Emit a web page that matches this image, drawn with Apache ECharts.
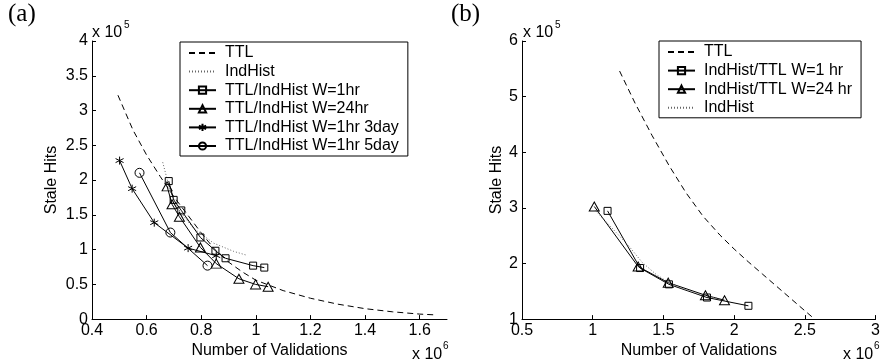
<!DOCTYPE html>
<html>
<head>
<meta charset="utf-8">
<script src="https://cdn.jsdelivr.net/npm/echarts@6/dist/echarts.min.js"></script>
<style>
html, body { margin: 0; padding: 0; background: #fff; }
#chart { width: 883px; height: 364px; }
</style>
</head>
<body>
<div id="chart"></div>
<script>
// values in axis units: x in 1e6 validations, y in 1e5 stale hits

// panel (a)
const ttlAX = [0.495, 0.55, 0.6, 0.65, 0.7, 0.75, 0.8, 0.85, 0.9, 0.95, 1.0, 1.1, 1.2, 1.3, 1.4, 1.5, 1.6, 1.65];
const ttlAY = [3.22, 2.72, 2.36, 2.05, 1.76, 1.5, 1.24, 1.0, 0.82, 0.68, 0.56, 0.41, 0.3, 0.215, 0.15, 0.105, 0.072, 0.062];
const indHistAX = [0.659, 0.687, 0.723, 0.772, 0.845, 0.919, 0.968];
const indHistAY = [2.256, 1.83, 1.544, 1.306, 1.093, 0.974, 0.917];
const w1hrX = [0.681, 0.699, 0.727, 0.797, 0.852, 0.889, 0.99, 1.031];
const w1hrY = [1.985, 1.715, 1.563, 1.174, 0.983, 0.875, 0.769, 0.741];
const w24hrX = [0.675, 0.693, 0.72, 0.797, 0.855, 0.938, 0.999, 1.045];
const w24hrY = [1.909, 1.652, 1.473, 1.031, 0.798, 0.58, 0.499, 0.466];
const w3dayX = [0.501, 0.547, 0.628, 0.752, 0.855];
const w3dayY = [2.28, 1.876, 1.387, 1.021, 0.912];
const w5dayX = [0.574, 0.687, 0.823];
const w5dayY = [2.104, 1.245, 0.769];
const xTicksA = [0.4, 0.6, 0.8, 1.0, 1.2, 1.4, 1.6];

// panel (b)
const ttlBX = [1.19, 1.3, 1.42, 1.54, 1.66, 1.78, 1.9, 2.0, 2.1, 2.2, 2.3, 2.4, 2.5, 2.56];
const ttlBY = [5.46, 4.88, 4.3, 3.76, 3.27, 2.85, 2.51, 2.26, 2.03, 1.81, 1.59, 1.37, 1.15, 1.02];
const itW1X = [1.105, 1.335, 1.539, 1.808, 2.101];
const itW1Y = [2.946, 1.918, 1.625, 1.388, 1.239];
const itW24X = [1.011, 1.321, 1.534, 1.797, 1.932];
const itW24Y = [3.025, 1.946, 1.655, 1.429, 1.34];
const indHistBX = [1.02, 1.15, 1.25, 1.35, 1.45, 1.55, 1.65, 1.75, 1.85, 1.9];
const indHistBY = [2.95, 2.6, 2.33, 2.02, 1.8, 1.64, 1.53, 1.45, 1.39, 1.36];

const pairs = (xs, ys) => xs.map((x, i) => [x, ys[i]]);

const font = '"Liberation Sans", Arial, sans-serif';
const starPath = 'path://M5,0L5,10M0.67,2.5L9.33,7.5M0.67,7.5L9.33,2.5';
const clear = 'rgba(0,0,0,0)';

// dashed / dotted curves: symbol none, and a see-through legend dot
function dashed(name, idx, data) {
    return {
        type: 'line', name: name, xAxisIndex: idx, yAxisIndex: idx, data: data,
        symbol: 'none', itemStyle: { color: clear, borderWidth: 0 },
        lineStyle: { color: '#000', width: 1, type: [6, 4] }
    };
}
function dotted(name, idx, data) {
    return {
        type: 'line', name: name, xAxisIndex: idx, yAxisIndex: idx, data: data,
        symbol: 'none', itemStyle: { color: clear, borderWidth: 0 },
        lineStyle: { color: '#666', width: 1, type: [1, 2] }
    };
}
function marked(name, idx, data, symbol, size) {
    return {
        type: 'line', name: name, xAxisIndex: idx, yAxisIndex: idx, data: data,
        symbol: symbol, symbolSize: size, showAllSymbol: true,
        itemStyle: { color: clear, borderColor: '#000', borderWidth: 1 },
        lineStyle: { color: '#000', width: 1 }
    };
}

function xAxis(idx, min, max, interval, ticks) {
    const ax = {
        type: 'value', gridIndex: idx, min: min, max: max, interval: interval,
        name: 'Number of Validations', nameLocation: 'middle', nameGap: 20,
        nameTextStyle: { fontFamily: font, fontSize: 16, color: '#000' },
        axisLine: { lineStyle: { color: '#000', width: 1 } },
        axisTick: { inside: true, length: 4, lineStyle: { color: '#000' } },
        axisLabel: { fontFamily: font, fontSize: 16, color: '#000', margin: 3 },
        splitLine: { show: false }
    };
    if (ticks) {
        ax.axisLabel.customValues = ticks;
        ax.axisTick.customValues = ticks;
    }
    return ax;
}
function yAxis(idx, min, max, interval, gap) {
    return {
        type: 'value', gridIndex: idx, min: min, max: max, interval: interval,
        name: 'Stale Hits', nameLocation: 'middle', nameGap: gap, nameRotate: 90,
        nameTextStyle: { fontFamily: font, fontSize: 16, color: '#000' },
        axisLine: { show: true, lineStyle: { color: '#000', width: 1 } },
        axisTick: { inside: true, length: 4, lineStyle: { color: '#000' } },
        axisLabel: { fontFamily: font, fontSize: 16, color: '#000', margin: 4 },
        splitLine: { show: false }
    };
}
function legend(left, top, names) {
    return {
        orient: 'vertical', left: left, top: top, data: names,
        itemWidth: 27, itemHeight: 9, itemGap: 2.6,
        padding: [3, 9, 2, 8],
        borderColor: '#000', borderWidth: 1, backgroundColor: '#fff',
        selectedMode: false,
        textStyle: { fontFamily: font, fontSize: 16, color: '#000', lineHeight: 16, padding: [0, 0, 0, 4] }
    };
}
function label(x, y, text, size) {
    return { type: 'text', x: x, y: y, style: { text: text, fontFamily: font, fontSize: size, fill: '#000' } };
}

const option = {
    animation: false,
    backgroundColor: '#fff',
    grid: [
        { left: 92, top: 41, width: 355, height: 281 },
        { left: 522, top: 41, width: 355, height: 280 }
    ],
    xAxis: [xAxis(0, 0.4, 1.7, 0.2, xTicksA), xAxis(1, 0.5, 3, 0.5)],
    yAxis: [yAxis(0, 0, 4, 0.5, 32), yAxis(1, 1, 6, 1, 17)],
    legend: [
        legend(180, 42, ['TTL', 'IndHist', 'TTL/IndHist W=1hr', 'TTL/IndHist W=24hr', 'TTL/IndHist W=1hr 3day', 'TTL/IndHist W=1hr 5day']),
        legend(659, 41, ['TTL', 'IndHist/TTL W=1 hr', 'IndHist/TTL W=24 hr', 'IndHist'])
    ],
    graphic: [
        { type: 'text', x: 8, y: 2, style: { text: '(a)', fontFamily: '"Liberation Serif", serif', fontSize: 25, fill: '#000' } },
        { type: 'text', x: 451, y: 2, style: { text: '(b)', fontFamily: '"Liberation Serif", serif', fontSize: 25, fill: '#000' } },
        label(92, 25, 'x 10', 16), label(124, 20, '5', 10),
        label(523, 25, 'x 10', 16), label(555, 20, '5', 10),
        label(412, 347, 'x 10', 16), label(443, 341, '6', 10),
        label(843, 347, 'x 10', 16), label(874, 341, '6', 10)
    ],
    series: [
        dashed('TTL', 0, pairs(ttlAX, ttlAY)),
        dotted('IndHist', 0, pairs(indHistAX, indHistAY)),
        marked('TTL/IndHist W=1hr', 0, pairs(w1hrX, w1hrY), 'rect', 7),
        marked('TTL/IndHist W=24hr', 0, pairs(w24hrX, w24hrY), 'triangle', [10, 9]),
        marked('TTL/IndHist W=1hr 3day', 0, pairs(w3dayX, w3dayY), starPath, 8),
        marked('TTL/IndHist W=1hr 5day', 0, pairs(w5dayX, w5dayY), 'circle', 9),
        dashed('TTL', 1, pairs(ttlBX, ttlBY)),
        marked('IndHist/TTL W=1 hr', 1, pairs(itW1X, itW1Y), 'rect', 7),
        marked('IndHist/TTL W=24 hr', 1, pairs(itW24X, itW24Y), 'triangle', [10, 9]),
        dotted('IndHist', 1, pairs(indHistBX, indHistBY))
    ]
};

const chart = echarts.init(document.getElementById('chart'), null, { renderer: 'canvas' });
chart.setOption(option);
</script>
</body>
</html>
